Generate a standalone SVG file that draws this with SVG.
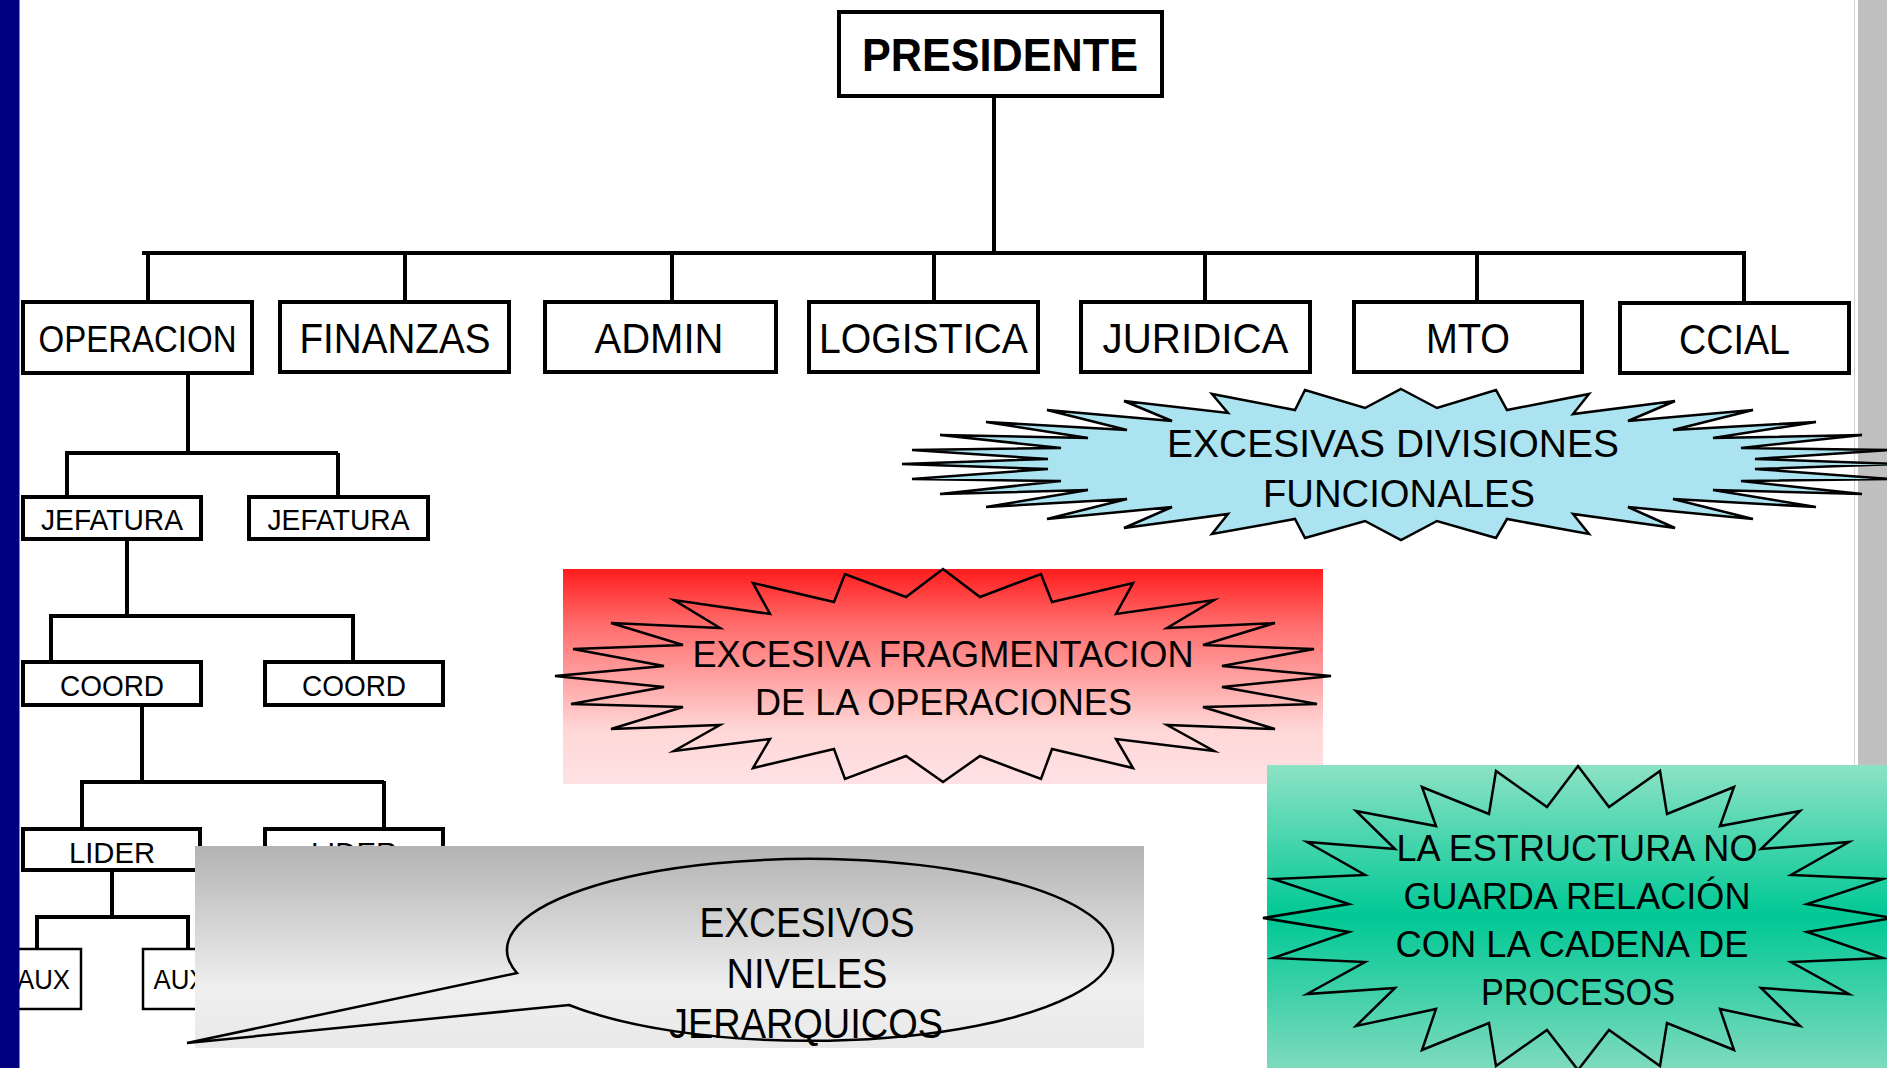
<svg xmlns="http://www.w3.org/2000/svg" width="1897" height="1068" viewBox="0 0 1897 1068">
<defs>
<style>
.box{fill:#fff;stroke:#000;stroke-width:4}
.sbox{fill:#fff;stroke:#000;stroke-width:2.5}
.ln{stroke:#000;stroke-width:4;fill:none;stroke-linecap:square}
.t{font-family:"Liberation Sans",Arial,sans-serif;fill:#000;text-anchor:middle}
.star{stroke:#000;stroke-width:2.5;stroke-linejoin:miter;stroke-miterlimit:6}
</style>
<linearGradient id="gRed" x1="0" y1="0" x2="0" y2="1">
<stop offset="0" stop-color="#ff1c1c"/>
<stop offset="0.25" stop-color="#ff6a6a"/>
<stop offset="0.75" stop-color="#ffd7d7"/>
<stop offset="1" stop-color="#ffe2e4"/>
</linearGradient>
<linearGradient id="gGray" x1="0" y1="0" x2="0" y2="1">
<stop offset="0" stop-color="#b3b3b3"/>
<stop offset="0.7" stop-color="#efefef"/>
<stop offset="1" stop-color="#e9e9e9"/>
</linearGradient>
<linearGradient id="gGreen" x1="0" y1="0" x2="0" y2="1">
<stop offset="0" stop-color="#8de2c5"/>
<stop offset="0.5" stop-color="#00c895"/>
<stop offset="1" stop-color="#7edabd"/>
</linearGradient>
</defs>
<rect x="0" y="0" width="1897" height="1068" fill="#fff"/>
<rect x="1854" y="0" width="1" height="1068" fill="#d2d2d2"/>
<rect x="1858" y="0" width="29" height="1068" fill="#c0c0c0"/>

<g id="connectors">
<line class="ln" x1="994" y1="97" x2="994" y2="253"/>
<line class="ln" x1="144" y1="253" x2="1744" y2="253"/>
<line class="ln" x1="148" y1="253" x2="148" y2="300"/>
<line class="ln" x1="405" y1="253" x2="405" y2="300"/>
<line class="ln" x1="672" y1="253" x2="672" y2="300"/>
<line class="ln" x1="934" y1="253" x2="934" y2="300"/>
<line class="ln" x1="1205" y1="253" x2="1205" y2="300"/>
<line class="ln" x1="1477" y1="253" x2="1477" y2="300"/>
<line class="ln" x1="1744" y1="253" x2="1744" y2="300"/>
<line class="ln" x1="188" y1="375" x2="188" y2="453"/>
<line class="ln" x1="67" y1="453" x2="336" y2="453"/>
<line class="ln" x1="67" y1="453" x2="67" y2="495"/>
<line class="ln" x1="338" y1="455" x2="338" y2="495"/>
<line class="ln" x1="127" y1="541" x2="127" y2="616"/>
<line class="ln" x1="51" y1="616" x2="352" y2="616"/>
<line class="ln" x1="51" y1="616" x2="51" y2="658"/>
<line class="ln" x1="353" y1="616" x2="353" y2="658"/>
<line class="ln" x1="142" y1="707" x2="142" y2="778"/>
<line class="ln" x1="82" y1="782" x2="382" y2="782"/>
<line class="ln" x1="82" y1="782" x2="82" y2="826"/>
<line class="ln" x1="384" y1="783" x2="384" y2="826"/>
<line class="ln" x1="112" y1="871" x2="112" y2="913"/>
<line class="ln" x1="37" y1="917" x2="188" y2="917"/>
<line class="ln" x1="37" y1="917" x2="37" y2="947"/>
<line class="ln" x1="188" y1="917" x2="188" y2="947"/>
</g>

<g id="presidente"><rect class="box" x="839" y="12" width="323" height="84"/><text class="t" x="1000" y="71" font-size="46" font-weight="bold" textLength="276" lengthAdjust="spacingAndGlyphs">PRESIDENTE</text></g>
<g id="operacion"><rect class="box" x="23" y="302" width="229" height="71"/><text class="t" x="137.5" y="352" font-size="37" textLength="198" lengthAdjust="spacingAndGlyphs">OPERACION</text></g>
<g id="finanzas"><rect class="box" x="280" y="302" width="229" height="70"/><text class="t" x="395" y="353" font-size="43" textLength="191" lengthAdjust="spacingAndGlyphs">FINANZAS</text></g>
<g id="admin"><rect class="box" x="545" y="302" width="231" height="70"/><text class="t" x="659" y="353" font-size="43" textLength="129" lengthAdjust="spacingAndGlyphs">ADMIN</text></g>
<g id="logistica"><rect class="box" x="809" y="302" width="229" height="70"/><text class="t" x="923.5" y="353" font-size="43" textLength="209" lengthAdjust="spacingAndGlyphs">LOGISTICA</text></g>
<g id="juridica"><rect class="box" x="1081" y="302" width="229" height="70"/><text class="t" x="1195.5" y="353" font-size="43" textLength="186" lengthAdjust="spacingAndGlyphs">JURIDICA</text></g>
<g id="mto"><rect class="box" x="1354" y="302" width="228" height="70"/><text class="t" x="1468" y="353" font-size="43" textLength="84" lengthAdjust="spacingAndGlyphs">MTO</text></g>
<g id="ccial"><rect class="box" x="1620" y="303" width="229" height="70"/><text class="t" x="1734.5" y="354" font-size="43" textLength="111" lengthAdjust="spacingAndGlyphs">CCIAL</text></g>

<g id="jefatura1"><rect class="box" x="23" y="497" width="178" height="42"/><text class="t" x="112" y="530" font-size="30" textLength="142" lengthAdjust="spacingAndGlyphs">JEFATURA</text></g>
<g id="jefatura2"><rect class="box" x="249" y="497" width="179" height="42"/><text class="t" x="338.5" y="530" font-size="30" textLength="142" lengthAdjust="spacingAndGlyphs">JEFATURA</text></g>
<g id="coord1"><rect class="box" x="23" y="662" width="178" height="43"/><text class="t" x="112" y="696" font-size="29" textLength="104" lengthAdjust="spacingAndGlyphs">COORD</text></g>
<g id="coord2"><rect class="box" x="265" y="662" width="178" height="43"/><text class="t" x="354" y="696" font-size="29" textLength="104" lengthAdjust="spacingAndGlyphs">COORD</text></g>
<g id="lider1"><rect class="box" x="23" y="829" width="177" height="41"/><text class="t" x="112" y="863" font-size="30" textLength="86" lengthAdjust="spacingAndGlyphs">LIDER</text></g>
<g id="lider2"><rect class="box" x="265" y="829" width="178" height="41"/><text class="t" x="354" y="863" font-size="30" textLength="86" lengthAdjust="spacingAndGlyphs">LIDER</text></g>
<g id="aux1"><rect class="sbox" x="6" y="949" width="75" height="60"/><text class="t" x="43.5" y="989" font-size="28" textLength="53" lengthAdjust="spacingAndGlyphs">AUX</text></g>
<g id="aux2"><rect class="sbox" x="143" y="949" width="75" height="60"/><text class="t" x="180" y="989" font-size="28" textLength="53" lengthAdjust="spacingAndGlyphs">AUX</text></g>

<g id="divisiones">
<polygon class="star" fill="#abe4f0" points="1401,389 1437,408 1496,390 1507,410 1589,394 1573,414 1675,401 1628,421 1753,410 1673,430 1816,422 1713,438 1862,435 1741,448 1890,450 1755,459 1900,464 1755,469 1890,479 1741,481 1862,494 1713,490 1816,507 1673,499 1753,519 1628,507 1675,528 1573,514 1589,534 1507,519 1496,538 1437,521 1401,540 1365,521 1305,538 1295,519 1212,534 1228,514 1124,528 1172,507 1047,519 1127,499 986,507 1088,490 940,494 1061,481 912,479 1048,469 902,464 1048,459 912,450 1061,448 940,435 1088,438 986,422 1127,430 1047,410 1172,421 1124,401 1228,413 1212,394 1295,410 1305,390 1365,408"/>
<text class="t" x="1393" y="457" font-size="39" textLength="452" lengthAdjust="spacingAndGlyphs">EXCESIVAS DIVISIONES</text>
<text class="t" x="1399" y="507" font-size="39" textLength="272" lengthAdjust="spacingAndGlyphs">FUNCIONALES</text>
</g>

<g id="fragmentacion">
<rect x="563" y="569" width="760" height="215" fill="url(#gRed)"/>
<polygon class="star" fill="none" points="943,569 980,597 1041,574 1052,602 1133,583 1116,614 1214,600 1167,628 1275,623 1203,645 1314,649 1222,666 1331,676 1222,687 1317,704 1203,707 1275,729 1167,725 1214,751 1116,739 1133,768 1052,749 1041,779 980,756 943,782 906,756 845,779 834,749 753,768 770,739 674,751 720,725 611,729 683,707 571,704 664,687 555,676 664,666 573,649 683,645 611,623 720,628 674,600 770,614 753,583 834,602 845,574 906,597"/>
<text class="t" x="943" y="667" font-size="36" textLength="501" lengthAdjust="spacingAndGlyphs">EXCESIVA FRAGMENTACION</text>
<text class="t" x="943.5" y="715" font-size="36" textLength="377" lengthAdjust="spacingAndGlyphs">DE LA OPERACIONES</text>
</g>

<g id="niveles">
<rect x="195" y="846" width="949" height="202" fill="url(#gGray)"/>
<path d="M517 973 L187 1043 L569 1005 A303 91 0 1 0 517 973 Z" fill="none" stroke="#000" stroke-width="2.5" stroke-linejoin="miter" stroke-miterlimit="6"/>
<text class="t" x="807" y="937" font-size="42" textLength="215" lengthAdjust="spacingAndGlyphs">EXCESIVOS</text>
<text class="t" x="807" y="988" font-size="42" textLength="161" lengthAdjust="spacingAndGlyphs">NIVELES</text>
<text class="t" x="806" y="1038" font-size="42" textLength="274" lengthAdjust="spacingAndGlyphs">JERARQUICOS</text>
</g>

<g id="procesos">
<rect x="1267" y="765" width="621" height="303" fill="url(#gGreen)"/>
<polygon class="star" fill="none" points="1578,766 1609,807 1660,771 1667,814 1734,787 1720,826 1800,811 1761,849 1849,842 1791,875 1883,879 1807,904 1893,918 1807,932 1883,958 1791,962 1849,994 1761,988 1800,1026 1720,1009 1734,1050 1667,1023 1660,1066 1609,1030 1578,1070 1547,1030 1496,1066 1489,1023 1422,1050 1436,1009 1356,1026 1395,988 1307,994 1365,962 1273,958 1349,932 1263,918 1349,904 1273,879 1365,875 1307,842 1395,849 1356,811 1436,826 1422,787 1489,814 1496,771 1547,807"/>
<text class="t" x="1577" y="861" font-size="36" textLength="361" lengthAdjust="spacingAndGlyphs">LA ESTRUCTURA NO</text>
<text class="t" x="1577" y="909" font-size="36" textLength="347" lengthAdjust="spacingAndGlyphs">GUARDA RELACIÓN</text>
<text class="t" x="1572" y="957" font-size="36" textLength="353" lengthAdjust="spacingAndGlyphs">CON LA CADENA DE</text>
<text class="t" x="1578" y="1005" font-size="36" textLength="194" lengthAdjust="spacingAndGlyphs">PROCESOS</text>
</g>

<rect x="0" y="0" width="19.5" height="1068" fill="#000080"/>
<rect x="1887" y="0" width="10" height="1068" fill="#fff"/>
</svg>
